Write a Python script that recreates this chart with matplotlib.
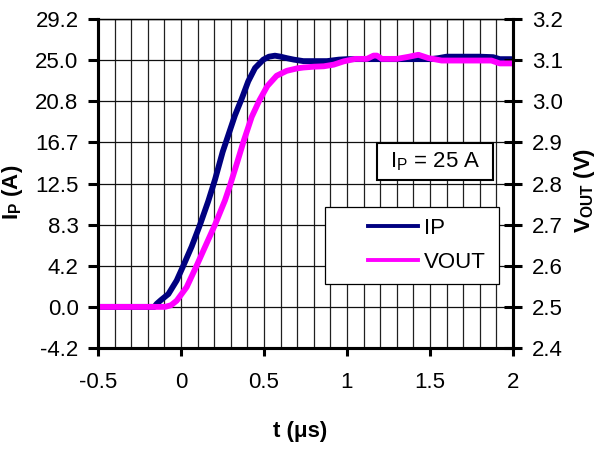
import matplotlib
matplotlib.use("Agg")
import matplotlib.pyplot as plt
from matplotlib.patches import Rectangle
import numpy as np

plt.rcParams['font.family'] = ['Liberation Sans', 'DejaVu Sans']
plt.rcParams['mathtext.fontset'] = 'custom'
plt.rcParams['mathtext.rm'] = 'Liberation Sans'
plt.rcParams['mathtext.bf'] = 'Liberation Sans:bold'
plt.rcParams['mathtext.it'] = 'Liberation Sans:italic'

# ---- data ----
t_ip = [-0.5, -0.16, -0.147, -0.12, -0.076, -0.026, 0.014, 0.064, 0.114, 0.164,
        0.205, 0.251, 0.325, 0.366, 0.405, 0.446, 0.496, 0.53, 0.566, 0.60,
        0.637, 0.68, 0.737, 0.80, 0.88, 0.95, 1.0, 1.1, 1.2, 1.3, 1.4, 1.5,
        1.55, 1.6, 1.7, 1.8, 1.88, 1.92, 2.0]
ip_vals = [0, 0, 0.3, 0.7, 1.3, 2.67, 4.17, 6.1, 8.3, 10.7,
           12.9, 15.7, 19.4, 21.1, 22.85, 24.2, 25.05, 25.35, 25.45, 25.35,
           25.2, 25.05, 24.9, 24.9, 24.9, 25.05, 25.1, 25.1, 25.1, 25.1, 25.1, 25.1,
           25.2, 25.35, 25.35, 25.35, 25.3, 25.1, 25.1]

t_vout = [-0.5, -0.096, -0.06, -0.026, 0.034, 0.094, 0.145, 0.205, 0.265, 0.295,
          0.339, 0.375, 0.426, 0.472, 0.52, 0.576, 0.637, 0.70, 0.737, 0.80,
          0.86, 0.92, 0.98, 1.05, 1.12, 1.16, 1.18, 1.21, 1.25, 1.30, 1.37,
          1.43, 1.49, 1.57, 1.70, 1.87, 1.92, 2.0]
vout_vals = [2.5, 2.5, 2.504, 2.515, 2.548, 2.6, 2.646, 2.7, 2.759, 2.795,
             2.852, 2.9, 2.962, 3.002, 3.037, 3.062, 3.074, 3.08, 3.082, 3.084,
             3.085, 3.089, 3.097, 3.103, 3.103, 3.111, 3.111, 3.103, 3.103, 3.103, 3.108,
             3.113, 3.105, 3.099, 3.099, 3.099, 3.092, 3.092]

x_ticks = [-0.5, 0, 0.5, 1, 1.5, 2]
x_ticklabels = ['-0.5', '0', '0.5', '1', '1.5', '2']
ip_ticklabels = ['-4.2', '0.0', '4.2', '8.3', '12.5', '16.7', '20.8', '25.0', '29.2']
v_ticklabels = ['2.4', '2.5', '2.6', '2.7', '2.8', '2.9', '3.0', '3.1', '3.2']
v_ticks = [2.4, 2.5, 2.6, 2.7, 2.8, 2.9, 3.0, 3.1, 3.2]
ip_per_v = 25.0 / 0.6  # IP scale: 2.5 V <-> 0 A, 3.1 V <-> 25 A

# ---- figure ----
fig = plt.figure(figsize=(5.96, 4.5), dpi=100)
ax = fig.add_axes([98/596, 1-348/450, 415/596, 329/450])
ax2 = ax.twinx()

ip_ticks = [(v - 2.5) * ip_per_v for v in v_ticks]
ax.set_xlim(-0.5, 2.0)
ax.set_ylim(ip_ticks[0], ip_ticks[-1])
ax2.set_ylim(v_ticks[0], v_ticks[-1])

ln1, = ax.plot(t_ip, ip_vals, color='#000080', lw=4.2, solid_joinstyle='round', label='IP')
ln2, = ax2.plot(t_vout, vout_vals, color='#FF00FF', lw=4.2, solid_joinstyle='round', label='VOUT')

ax.set_xticks(x_ticks)
ax.set_xticklabels(x_ticklabels)
ax.set_xticks(np.arange(-0.5, 2.0001, 0.1), minor=True)
ax.set_yticks(ip_ticks)
ax.set_yticklabels(ip_ticklabels)
ax2.set_yticks(v_ticks)
ax2.set_yticklabels(v_ticklabels)

ax.grid(True, which='both', axis='x', color='#202020', lw=0.9)
ax.grid(True, which='major', axis='y', color='#101010', lw=0.9)
ax.set_axisbelow(True)

fs = 16
ax.tick_params(axis='x', which='major', direction='out', length=6, width=2.2, pad=11, labelsize=fs)
ax.tick_params(axis='x', which='minor', length=0)
ax.tick_params(axis='y', direction='out', length=7, width=2.2, pad=7, labelsize=fs)
ax2.tick_params(axis='y', direction='inout', length=13, width=2.2, pad=7, labelsize=fs)

for a in (ax, ax2):
    for side in ('left', 'right', 'bottom'):
        a.spines[side].set_linewidth(2.2)
    a.spines['top'].set_linewidth(0.9)

ax.set_xlabel('t (μs)', fontsize=fs, fontweight='bold')
ax.xaxis.set_label_coords(0.486, -0.222)
ax.set_ylabel(r'$\mathbf{I_P\ (A)}$', fontsize=fs)
ax.yaxis.set_label_coords(-0.176, 0.474)
ax2.set_ylabel(r'$\mathbf{V_{OUT}\ (V)}$', fontsize=fs)
ax2.yaxis.set_label_coords(1.142, 0.48)

# legend box
ax2.add_patch(Rectangle((0.547, 0.1945), 0.966 - 0.547, 0.4286 - 0.1945,
                        transform=ax2.transAxes, facecolor='white', edgecolor='black',
                        lw=0.9, zorder=4))
leg = ax2.legend(handles=[ln1, ln2], loc='center left',
                 bbox_to_anchor=(0.624, (0.1945 + 0.4286) / 2),
                 frameon=False, borderpad=0, fontsize=fs, handlelength=2.25,
                 handletextpad=0.27, labelspacing=0.6)
leg.set_zorder(5)
for h in leg.legend_handles:
    h.set_linewidth(2.8)

# annotation box
ax2.add_patch(Rectangle((0.672, 0.511), 0.952 - 0.672, 0.623 - 0.511,
                        transform=ax2.transAxes, facecolor='white', edgecolor='black',
                        lw=1.5, zorder=4))
ax2.text(0.812, 0.567, r'$\mathrm{I_P}$ = 25 A', transform=ax2.transAxes,
         ha='center', va='center', fontsize=fs, zorder=6)

fig.savefig('out.png', dpi=100)
